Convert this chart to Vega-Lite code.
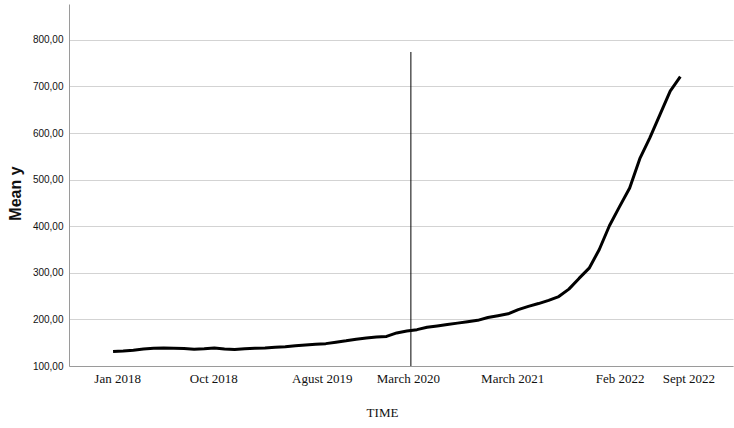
{
  "$schema": "https://vega.github.io/schema/vega-lite/v6.json",
  "width": 664,
  "height": 362,
  "autosize": {"type": "none"},
  "padding": {"left": 69, "top": 4, "right": 1, "bottom": 62},
  "background": "white",
  "config": {
    "view": {"stroke": null},
    "axis": {"domainColor": "#9a9a9a", "ticks": false, "labelColor": "#111", "titleColor": "#111"}
  },
  "datasets": {
    "series": [
      {"t": 0, "mean_y": 131}, {"t": 1, "mean_y": 132}, {"t": 2, "mean_y": 134}, {"t": 3, "mean_y": 136.5},
      {"t": 4, "mean_y": 138}, {"t": 5, "mean_y": 138.5}, {"t": 6, "mean_y": 138}, {"t": 7, "mean_y": 137.5},
      {"t": 8, "mean_y": 136}, {"t": 9, "mean_y": 137}, {"t": 10, "mean_y": 138.5}, {"t": 11, "mean_y": 136.5},
      {"t": 12, "mean_y": 135.5}, {"t": 13, "mean_y": 137}, {"t": 14, "mean_y": 138}, {"t": 15, "mean_y": 138.5},
      {"t": 16, "mean_y": 140}, {"t": 17, "mean_y": 141.5}, {"t": 18, "mean_y": 143.5}, {"t": 19, "mean_y": 145},
      {"t": 20, "mean_y": 146.5}, {"t": 21, "mean_y": 148}, {"t": 22, "mean_y": 151}, {"t": 23, "mean_y": 154},
      {"t": 24, "mean_y": 157.5}, {"t": 25, "mean_y": 160}, {"t": 26, "mean_y": 162}, {"t": 27, "mean_y": 163.5},
      {"t": 28, "mean_y": 171}, {"t": 29, "mean_y": 175}, {"t": 30, "mean_y": 178}, {"t": 31, "mean_y": 183},
      {"t": 32, "mean_y": 186}, {"t": 33, "mean_y": 189}, {"t": 34, "mean_y": 192}, {"t": 35, "mean_y": 195},
      {"t": 36, "mean_y": 198}, {"t": 37, "mean_y": 204}, {"t": 38, "mean_y": 208}, {"t": 39, "mean_y": 212},
      {"t": 40, "mean_y": 221}, {"t": 41, "mean_y": 228}, {"t": 42, "mean_y": 234}, {"t": 43, "mean_y": 241},
      {"t": 44, "mean_y": 249}, {"t": 45, "mean_y": 265}, {"t": 46, "mean_y": 288}, {"t": 47, "mean_y": 310},
      {"t": 48, "mean_y": 350}, {"t": 49, "mean_y": 401}, {"t": 50, "mean_y": 442}, {"t": 51, "mean_y": 482},
      {"t": 52, "mean_y": 545}, {"t": 53, "mean_y": 590}, {"t": 54, "mean_y": 640}, {"t": 55, "mean_y": 690},
      {"t": 56, "mean_y": 721}
    ],
    "marker": [{"t": 29.4, "lo": 100, "hi": 774}]
  },
  "encoding": {
    "x": {
      "field": "t",
      "type": "quantitative",
      "scale": {"domain": [-4.35, 61.2], "nice": false, "zero": false},
      "axis": {
        "title": "TIME",
        "titleFont": "Liberation Serif",
        "titleFontSize": 13,
        "titleFontWeight": "normal",
        "titleX": 313,
        "titleY": 46,
        "titleBaseline": "middle",
        "labelFont": "Liberation Serif",
        "labelFontSize": 13,
        "labelPadding": 6,
        "labelOverlap": false,
        "labelBound": false,
        "grid": false,
        "values": [0.4, 9.9, 20.6, 29.1, 39.4, 50, 56.8],
        "labelExpr": "datum.value < 5 ? 'Jan 2018' : datum.value < 15 ? 'Oct 2018' : datum.value < 25 ? 'Agust 2019' : datum.value < 35 ? 'March 2020' : datum.value < 45 ? 'March 2021' : datum.value < 53 ? 'Feb 2022' : 'Sept 2022'"
      }
    }
  },
  "layer": [
    {
      "data": {"name": "series"},
      "mark": {"type": "line", "color": "black", "strokeWidth": 3, "strokeJoin": "round", "strokeCap": "butt"},
      "encoding": {
        "y": {
          "field": "mean_y",
          "type": "quantitative",
          "scale": {"domain": [100, 877], "nice": false, "zero": false},
          "axis": {
            "title": "Mean y",
            "titleFont": "Liberation Sans",
            "titleFontSize": 16,
            "titleFontWeight": "bold",
            "titleAngle": -90,
            "titleAlign": "center",
            "titleBaseline": "middle",
            "titleX": -54,
            "titleY": 189,
            "labelFont": "Liberation Sans",
            "labelFontSize": 10,
            "labelPadding": 6,
            "values": [100, 200, 300, 400, 500, 600, 700, 800],
            "labelExpr": "replace(format(datum.value, '.2f'), '.', ',')",
            "grid": true,
            "gridColor": "#d3d3d3",
            "gridWidth": 1
          }
        }
      }
    },
    {
      "data": {"name": "marker"},
      "mark": {"type": "rule", "color": "black", "strokeWidth": 1},
      "encoding": {
        "y": {"field": "lo", "type": "quantitative"},
        "y2": {"field": "hi"}
      }
    }
  ]
}
